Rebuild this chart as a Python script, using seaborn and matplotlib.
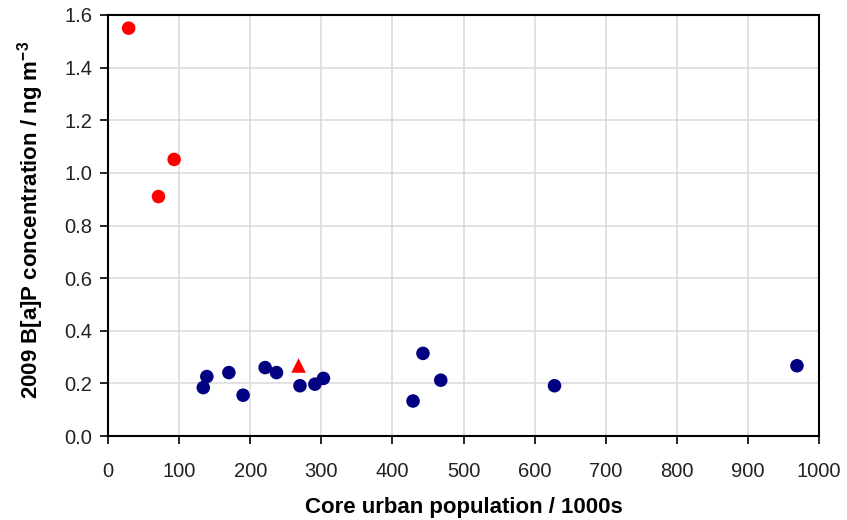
import matplotlib
matplotlib.use("Agg")
import matplotlib.pyplot as plt
import seaborn as sns
import pandas as pd

# Data
blue_x = [134, 139, 170, 190, 221, 237, 270, 291, 303, 429, 443, 468, 628, 969]
blue_y = [0.184, 0.226, 0.241, 0.155, 0.260, 0.241, 0.191, 0.197, 0.219, 0.133, 0.314, 0.212, 0.191, 0.267]
red_x = [29, 71, 93]
red_y = [1.55, 0.91, 1.051]
tri_x = [268]
tri_y = [0.268]

x_ticks = list(range(0, 1001, 100))
y_ticks = [0.0, 0.2, 0.4, 0.6, 0.8, 1.0, 1.2, 1.4, 1.6]

sns.set_theme(style="whitegrid")
plt.rcParams['font.family'] = ['Liberation Sans', 'DejaVu Sans']
plt.rcParams['mathtext.fontset'] = 'custom'
plt.rcParams['mathtext.rm'] = 'Liberation Sans'
plt.rcParams['mathtext.bf'] = 'Liberation Sans:bold'

fig = plt.figure(figsize=(8.47, 5.2), dpi=100)
ax = fig.add_axes([108/847, 84/520, 711/847, 421/520])

df_b = pd.DataFrame({"x": blue_x, "y": blue_y})
df_r = pd.DataFrame({"x": red_x, "y": red_y})
df_t = pd.DataFrame({"x": tri_x, "y": tri_y})

sns.scatterplot(data=df_b, x="x", y="y", ax=ax, color="#000080", s=95, edgecolor="none", zorder=3)
sns.scatterplot(data=df_r, x="x", y="y", ax=ax, color="#FF0000", s=95, edgecolor="none", zorder=3)
sns.scatterplot(data=df_t, x="x", y="y", ax=ax, color="#FF0000", marker="^", s=110, edgecolor="none", zorder=3)

ax.set_xlim(0, 1000)
ax.set_ylim(0, 1.6)
ax.set_xticks(x_ticks)
ax.set_yticks(y_ticks)
ax.set_yticklabels([f"{v:.1f}" for v in y_ticks])
ax.grid(True, color="#d9d9d9", linewidth=1.1)
ax.set_axisbelow(True)
for s in ax.spines.values():
    s.set_color("black")
    s.set_linewidth(1.5)
ax.tick_params(axis="both", direction="out", length=5.5, width=1.2, color="black",
               labelsize=14.5, labelcolor="#222222", bottom=True, left=True)
ax.tick_params(axis="x", pad=13)
ax.tick_params(axis="y", pad=6)
ax.set_xlabel("Core urban population / 1000s", fontsize=16, fontweight="bold",
              labelpad=12, color="black")
ax.set_ylabel(r"2009 B[a]P concentration / ng m$^{\mathbf{-3}}$", fontsize=16,
              fontweight="bold", labelpad=13, color="black")
ax.yaxis.label.set_y(0.513)

fig.savefig("out.png", dpi=100)
